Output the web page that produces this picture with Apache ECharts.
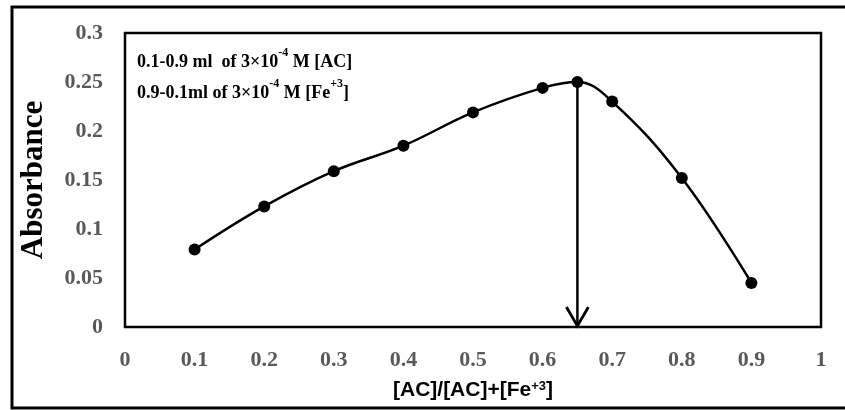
<!DOCTYPE html>
<html><head><meta charset="utf-8">
<script src="https://cdn.jsdelivr.net/npm/echarts@6/dist/echarts.min.js"></script>
<style>html,body{margin:0;padding:0;background:#fff}#c{width:845px;height:410px}</style>
</head><body><div id="c"></div>
<script>
var xValues = [0.1, 0.2, 0.3, 0.4, 0.5, 0.6, 0.65, 0.7, 0.8, 0.9];
var absorbance = [0.079, 0.123, 0.159, 0.185, 0.219, 0.244, 0.250, 0.230, 0.152, 0.045];
var arrowX = 0.65;
var arrowTop = 0.250;
var xTicks = [0, 0.1, 0.2, 0.3, 0.4, 0.5, 0.6, 0.7, 0.8, 0.9, 1];
var yTicks = [0, 0.05, 0.1, 0.15, 0.2, 0.25, 0.3];

var chart = echarts.init(document.getElementById('c'));
var serif = '"Liberation Serif","Times New Roman",serif';
var sans = '"Liberation Sans",Arial,sans-serif';
var pts = xValues.map(function(x, i){ return [x, absorbance[i]]; });
chart.setOption({
  animation: false,
  backgroundColor: '#fff',
  grid: {left: 125, right: 24, top: 33, bottom: 83, outerBoundsMode: 'none', containLabel: false,
    show: true, borderColor: '#000', borderWidth: 2.5, backgroundColor: 'transparent'},
  xAxis: {
    type: 'value', min: 0, max: 1, interval: 0.1,
    axisLine: {show: false}, axisTick: {show: false}, splitLine: {show: false},
    axisLabel: {color: '#595959', fontFamily: serif, fontWeight: 'bold', fontSize: 22, margin: 22,
      formatter: function(v){ return String(Math.round(v*10)/10); }},
    name: '[AC]/[AC]+[Fe{sup|+3}]', nameLocation: 'middle', nameGap: 53,
    nameTextStyle: {color: '#000', fontFamily: sans, fontWeight: 'bold', fontSize: 21,
      rich: {sup: {fontSize: 13, verticalAlign: 'top', padding: [0,0,8,0], fontWeight: 'bold', fontFamily: sans, color: '#000'}}}
  },
  yAxis: {
    type: 'value', min: 0, max: 0.3, interval: 0.05,
    axisLine: {show: false}, axisTick: {show: false}, splitLine: {show: false},
    axisLabel: {color: '#595959', fontFamily: serif, fontWeight: 'bold', fontSize: 22, margin: 22,
      formatter: function(v){ return String(Math.round(v*100)/100); }},
    name: 'Absorbance', nameLocation: 'middle', nameGap: 76,
    nameTextStyle: {color: '#000', fontFamily: serif, fontWeight: 'bold', fontSize: 31}
  },
  graphic: [
    {type: 'rect', shape: {x: 12, y: 7, width: 840, height: 401}, style: {fill: 'none', stroke: '#000', lineWidth: 3}, silent: true, z: 100},
    {type: 'text', left: 137, top: 47, style: {
      text: '0.1-0.9 ml  of 3×10{s|-4} M [AC]\n0.9-0.1ml of 3×10{s|-4} M [Fe{s|+3}]',
      font: 'bold 18px ' + serif, fill: '#000', lineHeight: 31,
      rich: {s: {fontSize: 12, fontWeight: 'bold', fontFamily: serif, verticalAlign: 'top', padding: [0,0,4,0], fill: '#000'}}
    }}
  ],
  series: [
    {type: 'line', data: pts, smooth: 0.4, symbol: 'circle', symbolSize: 12,
      itemStyle: {color: '#000'}, lineStyle: {color: '#000', width: 2.5}, z: 5},
    {type: 'custom', data: [[arrowX, arrowTop]], z: 4,
      renderItem: function(params, api){
        var top = api.coord([api.value(0), api.value(1)]);
        var bot = api.coord([api.value(0), 0]);
        return {type: 'group', children: [
          {type: 'line', shape: {x1: top[0], y1: top[1], x2: bot[0], y2: bot[1]}, style: {stroke: '#000', lineWidth: 2.5}},
          {type: 'polyline', shape: {points: [[bot[0]-11, bot[1]-20], [bot[0], bot[1]-1], [bot[0]+11, bot[1]-20]]}, style: {stroke: '#000', lineWidth: 2.8, fill: 'none'}}
        ]};
      }}
  ]
});
</script></body></html>
